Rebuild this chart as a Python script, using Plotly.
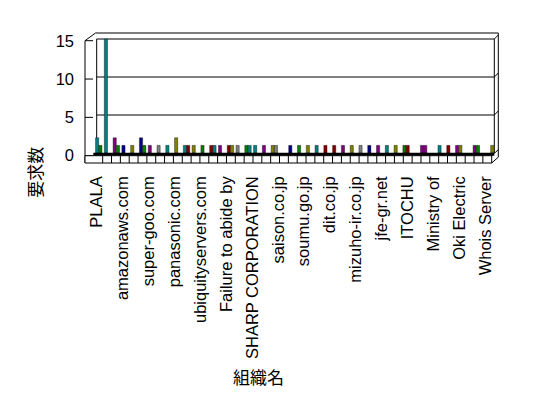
import plotly.graph_objects as go

# ---------------- data ----------------
label_text = ["PLALA", "amazonaws.com", "super-goo.com", "panasonic.com",
              "ubiquityservers.com", "Failure to abide by", "SHARP CORPORATION",
              "saison.co.jp", "soumu.go.jp", "dit.co.jp", "mizuho-ir.co.jp",
              "jfe-gr.net", "ITOCHU", "Ministry of", "Oki Electric", "Whois Server"]
n_cat = 46
label_index = [0, 3, 6, 9, 12, 15, 18, 21, 24, 27, 30, 33, 36, 39, 42, 45]

values_a = [2, 15, 2, 1, 1, 2, 1, 1, 1, 2, 1, 1, 1, 1, 1, 1, 1, 1, 1, 1, 1, None,
            1, 1, 1, 1, 1, 1, 1, 1, 1, 1, 1, 1, 1, 1, None, 1, None, 1, 1, 1, None,
            1, None, 1]
values_b = [1, None, 1, None, None, 1, None, None, None, None, 1, None, None, 1, None,
            1, None, 1, None, None, 1, None, None, None, None, None, None, None, None,
            None, None, None, None, None, None, 1, None, 1, None, None, None, 1, None,
            1, None, None]

# ---------------- styles ----------------
TE, GR, PU, NA, OL, GY, RE = ("#008080", "#008000", "#800080", "#000080",
                              "#808000", "#808080", "#800000")
colors_a = [TE, TE, PU, NA, OL, NA, PU, GY, TE, OL, TE, OL, GR, RE, PU, RE, GY, GR,
            TE, PU, OL, GY, NA, GR, OL, TE, RE, RE, PU, OL, GY, NA, PU, TE, OL, GR,
            GY, PU, GY, TE, RE, PU, GY, PU, GY, OL]
colors_b = [GR, GR, GR, GR, GR, GR, GR, GR, GR, GR, RE, GR, GR, TE, GR, OL, GR, TE,
            GR, GR, GY, GR, GR, GR, GR, GR, GR, GR, GR, GR, GR, GR, GR, GR, GR, RE,
            GR, PU, GR, GR, GR, OL, GR, GR, GR, GR]

W, H = 548, 398
PL, PR, PT, PB = 92, 494, 33.3, 153.3
YMAX = 15.79


def xp(px):
    return (px - PL) / (PR - PL)


def yp(py):
    return (PB - py) / (PB - PT)


cats = list(range(n_cat))
fig = go.Figure()
fig.add_bar(x=cats, y=values_a, marker_color=colors_a, offset=-0.2, width=0.36,
            marker_line=dict(color="black", width=0.4), showlegend=False)
fig.add_bar(x=cats, y=values_b, marker_color=colors_b, offset=0.17, width=0.36,
            marker_line=dict(color="black", width=0.4), showlegend=False)
# category label axis (front edge of the floor)
fig.add_scatter(x=label_index, y=[None] * len(label_index), xaxis="x2",
                mode="markers", showlegend=False, hoverinfo="skip")

shapes = []
L = dict(color="black", width=1)


def line(x0, y0, x1, y1, layer="above", yref="paper"):
    shapes.append(dict(type="line", xref="paper", yref=yref, x0=x0, y0=y0,
                       x1=x1, y1=y1, line=L, layer=layer))


# walls
line(xp(85), yp(41), xp(85), yp(163.3))
line(xp(85), yp(41), xp(95.5), yp(33.3))
line(xp(95.5), yp(33.3), xp(498.3), yp(33.3))
line(xp(498.3), yp(33.3), xp(498.3), yp(157.5))
line(xp(96.7), yp(39.3), xp(96.7), yp(153.3), layer="below")
line(xp(494.3), yp(39.3), xp(494.3), yp(153.3), layer="below")
# gridlines on back wall
for v in [5, 10, 15]:
    line(xp(96.7), v, xp(494.3), v, layer="below", yref="y")
    line(xp(494.3), v, xp(498.3), v + 4 / 7.6, layer="below", yref="y")
# front axis ticks
for v in [0, 5, 10, 15]:
    y = 156 - v * (115 / 15)
    line(xp(85), yp(y), xp(93), yp(y))
# floor
shapes.append(dict(type="rect", xref="paper", yref="paper", x0=xp(93.3), y0=yp(156),
                   x1=xp(494.3), y1=yp(153), fillcolor="black", line=dict(width=0),
                   layer="above"))
shapes.append(dict(type="rect", xref="paper", yref="paper", x0=xp(85), y0=yp(163.3),
                   x1=xp(491.7), y1=yp(156), fillcolor="white", line=L, layer="above"))
cell = (491.7 - 85) / n_cat
for k in range(2, n_cat):
    line(xp(85 + cell * k), yp(156), xp(85 + cell * k), yp(163.3))
line(xp(491.7), yp(163.3), xp(498.3), yp(157.5))
line(xp(491.7), yp(156), xp(498.3), yp(150))

fig.update_layout(
    width=W, height=H,
    margin=dict(l=PL, r=W - PR, t=PT, b=H - PB, pad=0),
    paper_bgcolor="white", plot_bgcolor="white",
    barmode="overlay",
    shapes=shapes,
    font=dict(family="Liberation Sans, Arial", size=16, color="black"),
    xaxis=dict(range=[-0.604, 45.18], showticklabels=False, showgrid=False,
               zeroline=False, showline=False, ticks=""),
    xaxis2=dict(overlaying="x", side="bottom", anchor="y", range=[-0.579, 46.0],
                tickmode="array", tickvals=label_index, ticktext=label_text,
                tickangle=-90, ticks="", showgrid=False, zeroline=False,
                showline=False, ticklabelstandoff=19,
                tickfont=dict(family="Liberation Sans, Arial", size=16.5, color="black")),
    yaxis=dict(range=[0, YMAX], tickvals=[0, 5, 10, 15], showgrid=False,
               zeroline=False, showline=False, ticks="", ticklabelstandoff=17,
               ticklabelshift=2,
               tickfont=dict(family="Liberation Sans, Arial", size=16.5, color="black")),
    annotations=[
        dict(text="要求数", xref="paper", yref="paper", x=xp(35), y=yp(173),
             xanchor="center", yanchor="middle",
             showarrow=False, textangle=-90,
             font=dict(family="Noto Sans CJK JP", size=17, color="black")),
        dict(text="組織名", xref="paper", yref="paper", x=xp(258), y=yp(377),
             xanchor="center", yanchor="middle",
             showarrow=False,
             font=dict(family="Noto Sans CJK JP", size=17, color="black")),
    ],
)

fig.write_html("out.html")
